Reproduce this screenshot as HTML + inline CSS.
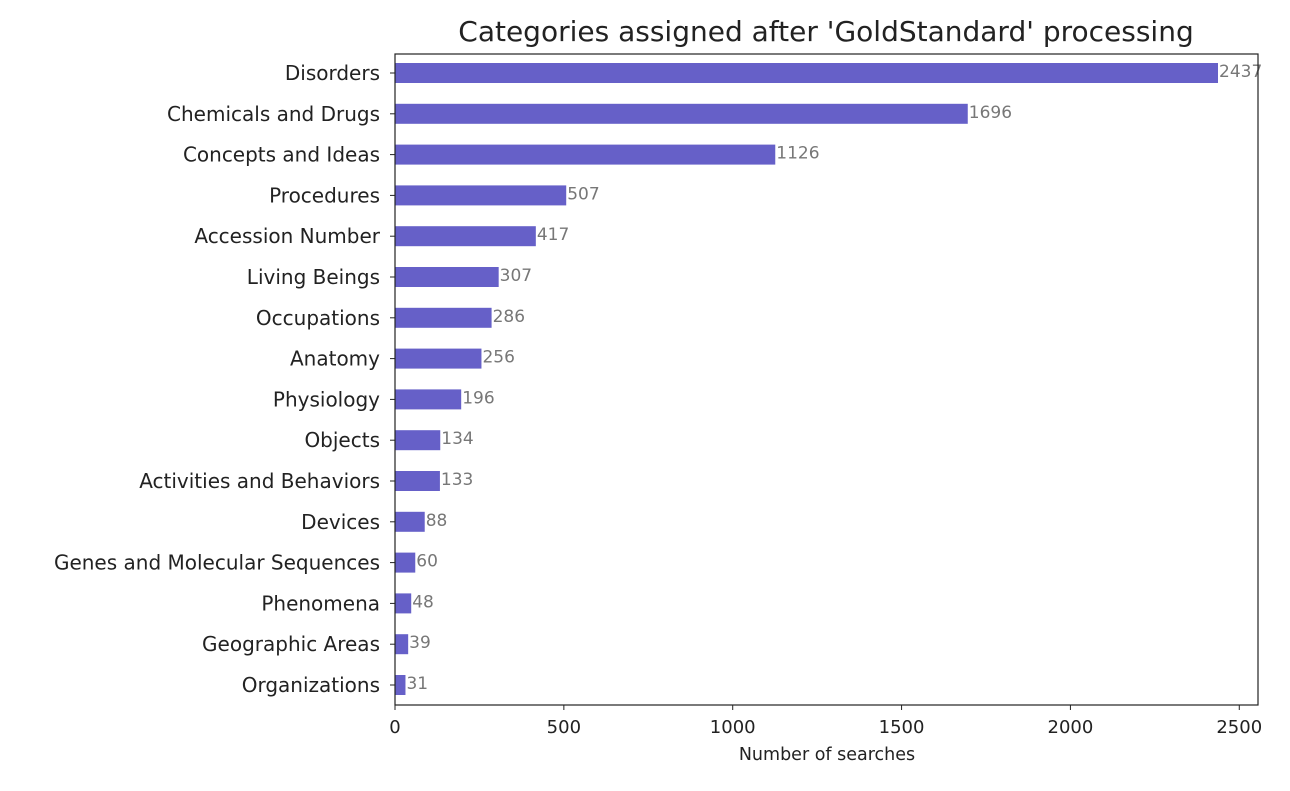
<!DOCTYPE html>
<html><head><meta charset="utf-8"><style>
body{margin:0;background:#fff;}
svg text{font-family:"DejaVu Sans","Liberation Sans",sans-serif;}
</style></head><body>
<svg id="chart" width="1290" height="786" xmlns="http://www.w3.org/2000/svg">
<text x="826" y="41" text-anchor="middle" font-size="28" fill="#222">Categories assigned after 'GoldStandard' processing</text>
<g id="bars"></g>
<rect x="395" y="54" width="863" height="651" fill="none" stroke="#222" stroke-width="1.2"/>
<text x="827" y="760" text-anchor="middle" font-size="17.5" fill="#222">Number of searches</text>
</svg>
<script>
const categories=["Disorders","Chemicals and Drugs","Concepts and Ideas","Procedures","Accession Number","Living Beings","Occupations","Anatomy ","Physiology","Objects","Activities and Behaviors","Devices","Genes and Molecular Sequences","Phenomena","Geographic Areas","Organizations"];
const values=[2437,1696,1126,507,417,307,286,256,196,134,133,88,60,48,39,31];
const xTicks=[0,500,1000,1500,2000,2500];
const NS="http://www.w3.org/2000/svg";
const g=document.getElementById('bars');
const x0=395,pxPer=823/2437,yTop=73,step=40.8,bh=20;
const xs=v=>x0+v*pxPer;
const ys=i=>yTop+i*step;
function mk(t,a){const e=document.createElementNS(NS,t);for(const k in a)e.setAttribute(k,a[k]);g.appendChild(e);return e;}
categories.forEach((c,i)=>{
 const r=mk('rect',{x:x0,y:ys(i)-bh/2,width:xs(values[i])-x0,height:bh,fill:'#6660c8'});
 
 
 const tk=mk('line',{x1:x0-5,x2:x0,y1:ys(i),y2:ys(i),stroke:'#222'});
 
 
 const l=mk('text',{x:x0-15,y:ys(i)+7,'text-anchor':'end','font-size':'20',fill:'#222'});
 l.textContent=c;
 
 
 const v=mk('text',{x:xs(values[i])+1,y:ys(i)+4,'font-size':'17',fill:'#777'});
 v.textContent=values[i];
 
 
});
xTicks.forEach(t=>{
 const tk=mk('line',{x1:xs(t),x2:xs(t),y1:705,y2:710,stroke:'#222'});
 
 
 const l=mk('text',{x:xs(t),y:733,'text-anchor':'middle','font-size':'18',fill:'#222'});
 l.textContent=t;
 
 
});
</script>
</body></html>
